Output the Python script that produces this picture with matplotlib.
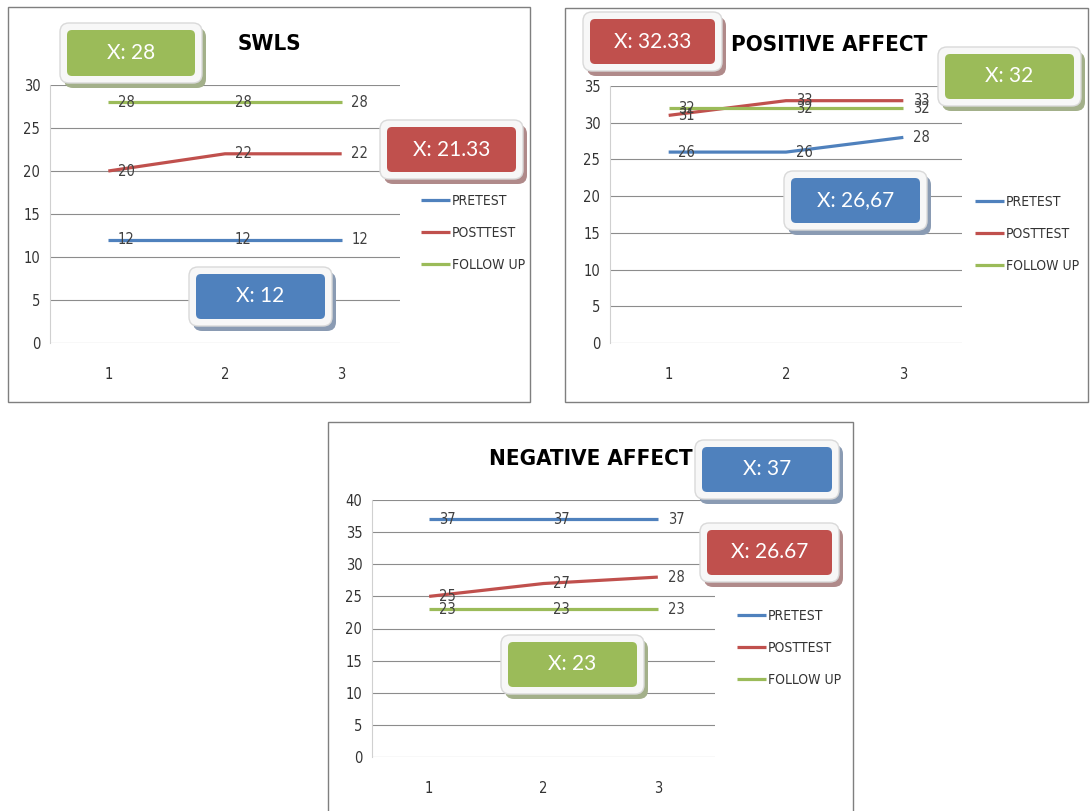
import matplotlib
matplotlib.use('Agg')
import matplotlib.pyplot as plt
from matplotlib.patches import Rectangle, FancyBboxPatch

W, H = 1090, 811

categories = [1, 2, 3]
series_names = ['PRETEST', 'POSTTEST', 'FOLLOW UP']

swls_pre = [12, 12, 12]
swls_post = [20, 22, 22]
swls_follow = [28, 28, 28]

pos_pre = [26, 26, 28]
pos_post = [31, 33, 33]
pos_follow = [32, 32, 32]

neg_pre = [37, 37, 37]
neg_post = [25, 27, 28]
neg_follow = [23, 23, 23]

swls_means = ['X: 12', 'X: 21.33', 'X: 28']
pos_means = ['X: 26,67', 'X: 32.33', 'X: 32']
neg_means = ['X: 37', 'X: 26.67', 'X: 23']

colors = ['#4F81BD', '#C0504D', '#9BBB59']
shadow_colors = ['#8a9bb3', '#b08a8a', '#a3b08a']

narrow = dict(family='DejaVu Sans', stretch='condensed')
box_font = ['Lato', 'DejaVu Sans']

fig = plt.figure(figsize=(W / 100, H / 100), dpi=100)
fig.patch.set_facecolor('white')


def px_rect(x0, y0, x1, y1):
    return [x0 / W, 1 - y1 / H, (x1 - x0) / W, (y1 - y0) / H]


def frame(x0, y0, x1, y1):
    fig.add_artist(Rectangle((x0 / 100, (H - y1) / 100), (x1 - x0) / 100, (y1 - y0) / 100,
                             transform=fig.dpi_scale_trans, fill=False,
                             ec='#7f7f7f', lw=1, zorder=0.5))


def mean_box(x0, y0, x1, y1, text, i):
    t = fig.dpi_scale_trans
    pad = 7
    # shadow, white rim, coloured box
    fig.add_artist(FancyBboxPatch(((x0 - pad + 4) / 100, (H - y1 - pad - 5) / 100),
                                  (x1 - x0 + 2 * pad) / 100, (y1 - y0 + 2 * pad) / 100,
                                  boxstyle='round,pad=0,rounding_size=0.09', transform=t,
                                  fc=shadow_colors[i], ec='none', zorder=2))
    fig.add_artist(FancyBboxPatch(((x0 - pad) / 100, (H - y1 - pad) / 100),
                                  (x1 - x0 + 2 * pad) / 100, (y1 - y0 + 2 * pad) / 100,
                                  boxstyle='round,pad=0,rounding_size=0.09', transform=t,
                                  fc='#f7f7f7', ec='#d9d9d9', lw=1, zorder=2.1))
    fig.add_artist(FancyBboxPatch((x0 / 100, (H - y1) / 100),
                                  (x1 - x0) / 100, (y1 - y0) / 100,
                                  boxstyle='round,pad=0,rounding_size=0.05', transform=t,
                                  fc=colors[i], ec='none', zorder=2.2))
    fig.text((x0 + x1) / 2 / W, 1 - (y0 + y1) / 2 / H, text, color='white',
             fontsize=15, ha='center', va='center', family=box_font, zorder=3)


def panel(rect, ymax, series, title, title_xy, means, boxes, legend_xy):
    ax = fig.add_axes(px_rect(*rect))
    for i, vals in enumerate(series):
        ax.plot(categories, vals, color=colors[i], lw=2.3, label=series_names[i],
                solid_capstyle='butt', zorder=3)
        for x, v in zip(categories, vals):
            ax.annotate(str(v), (x, v), xytext=(13, 0), textcoords='offset points',
                        ha='center', va='center', fontsize=10.5, color='#404040',
                        zorder=4, **narrow)
    ax.set_xlim(0.5, 3.5)
    ax.set_ylim(0, ymax)
    ax.set_xticks(categories)
    ax.set_yticks(range(0, ymax + 1, 5))
    ax.tick_params(length=0, labelsize=10.5, labelcolor='#333333')
    ax.tick_params(axis='x', pad=17)
    ax.tick_params(axis='y', pad=7)
    for lab in ax.get_xticklabels() + ax.get_yticklabels():
        lab.set_family(narrow['family'])
        lab.set_stretch(narrow['stretch'])
    ax.yaxis.grid(True, color='#8c8c8c', lw=0.8)
    ax.set_axisbelow(True)
    for s in ['top', 'right', 'bottom']:
        ax.spines[s].set_visible(False)
    ax.spines['left'].set_color('#d0d0d0')
    ax.set_facecolor('none')

    fig.text(title_xy[0] / W, 1 - title_xy[1] / H, title, fontsize=16, weight='bold',
             ha='center', va='center', **narrow)

    leg = ax.legend(loc='center left', bbox_to_anchor=(legend_xy[0] / W, 1 - legend_xy[1] / H),
                    bbox_transform=fig.transFigure, frameon=False, fontsize=10,
                    handlelength=2.1, handletextpad=0.1, labelspacing=1.3, borderpad=0,
                    borderaxespad=0)
    for txt in leg.get_texts():
        txt.set_family(narrow['family'])
        txt.set_stretch(narrow['stretch'])
        txt.set_color('#333333')

    for i, (b, m) in enumerate(zip(boxes, means)):
        mean_box(*b, m, i)


# frames
frame(8, 7, 530, 402)
frame(565, 8, 1088, 402)
frame(328, 422, 853, 812)

panel((50, 85, 400, 343), 30, [swls_pre, swls_post, swls_follow], 'SWLS', (269, 44),
      swls_means,
      [(196, 274, 325, 319), (387, 127, 516, 172), (67, 30, 195, 76)],
      (421, 233))

panel((610, 86, 962, 343), 35, [pos_pre, pos_post, pos_follow], 'POSITIVE AFFECT', (829, 45),
      pos_means,
      [(791, 178, 920, 223), (590, 19, 715, 64), (945, 54, 1074, 99)],
      (975, 234))

panel((372, 500, 715, 757), 40, [neg_pre, neg_post, neg_follow], 'NEGATIVE AFFECT', (591, 459),
      neg_means,
      [(702, 447, 832, 492), (707, 530, 832, 575), (508, 642, 637, 687)],
      (737, 648))

fig.savefig('out.png', dpi=100, facecolor='white')
